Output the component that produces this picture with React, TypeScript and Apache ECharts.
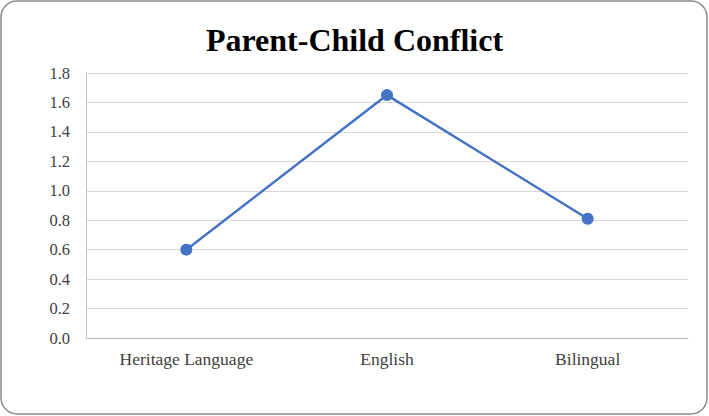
import React, { useEffect, useRef } from "react";
import * as echarts from "echarts";

const categories = ["Heritage Language", "English", "Bilingual"];
const values = [0.6, 1.65, 0.81];
const yTicks = { min: 0, max: 1.8, interval: 0.2 };
const title = "Parent-Child Conflict";

export default function App() {
  const ref = useRef<HTMLDivElement>(null);
  useEffect(() => {
    if (!ref.current) return;
    const chart = echarts.init(ref.current, null, { renderer: "svg" });
    chart.setOption({
      animation: false,
      backgroundColor: "#ffffff",
      title: {
        text: title,
        left: "center",
        top: 19,
        textStyle: {
          fontFamily: "Liberation Serif",
          fontWeight: "bold",
          fontSize: 32,
          color: "#000000",
        },
      },
      graphic: [
        {
          type: "rect",
          shape: { x: 1, y: 1, width: 706, height: 413, r: 16 },
          style: { fill: "none", stroke: "#8c8c8c", lineWidth: 1.5 },
          z: 100,
        },
      ],
      grid: { left: 86, right: 21, top: 73, bottom: 78 },
      xAxis: {
        type: "category",
        data: categories,
        boundaryGap: true,
        axisLine: { lineStyle: { color: "#bfbfbf", width: 1 } },
        axisTick: { show: false },
        axisLabel: {
          fontFamily: "Liberation Serif",
          fontSize: 17.5,
          color: "#404040",
          margin: 12,
        },
      },
      yAxis: {
        type: "value",
        min: yTicks.min,
        max: yTicks.max,
        interval: yTicks.interval,
        axisLine: { show: true, lineStyle: { color: "#bfbfbf" } },
        axisTick: { show: false },
        splitLine: { lineStyle: { color: "#d9d9d9", width: 1 } },
        axisLabel: {
          fontFamily: "Liberation Serif",
          fontSize: 16.5,
          color: "#404040",
          margin: 16,
          formatter: (v: number) => v.toFixed(1),
        },
      },
      series: [
        {
          type: "line",
          data: values,
          symbol: "circle",
          symbolSize: 12,
          lineStyle: { color: "#4472C4", width: 2.5 },
          itemStyle: { color: "#4472C4" },
        },
      ],
    });
    return () => chart.dispose();
  }, []);
  return (
    <div
      ref={ref}
      style={{ position: "fixed", left: 0, top: 0, width: 709, height: 416 }}
    />
  );
}
